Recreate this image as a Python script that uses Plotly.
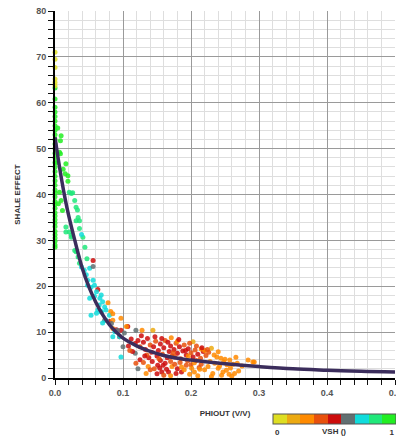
import plotly.graph_objects as go

# ---------------- data ----------------
# fitted trend line
curve_phi = [0, 0.005, 0.01, 0.015, 0.02, 0.03, 0.04, 0.05, 0.06, 0.07, 0.08, 0.09, 0.1,
             0.12, 0.14, 0.16, 0.18, 0.2, 0.25, 0.3, 0.35, 0.4, 0.45, 0.5]
curve_se = [52.5, 47.5, 43, 39, 35.5, 29.5, 24, 19.8, 16.5, 13.8, 11.6, 10, 8.7,
            7, 5.8, 4.9, 4.3, 3.9, 3.1, 2.5, 2.0, 1.7, 1.45, 1.3]

# points at PHIOUT = 0
zero_se = [28.5, 29, 29.8, 30.5, 31.2, 32, 33, 33.8, 34.5, 35.3, 36, 37, 37.8, 38.5, 39.5,
           40.3, 41, 42, 43, 44, 45, 46, 47, 48, 49, 50, 51, 52, 53, 54, 55, 56, 57, 58, 59,
           60.8, 63.2, 63.7, 64.4, 65.2, 67.7, 69.5, 71.0]
zero_vsh = [0.97] * 37 + [0.03] * 6

# low porosity shaly points along the trend
shaly_phi = [0.009, 0.008, 0.0066, 0.008, 0.016, 0.015, 0.019, 0.019, 0.0066, 0.009, 0.005, 0.021,
             0.024, 0.026, 0.029, 0.031, 0.033, 0.034, 0.036, 0.031, 0.016, 0.021, 0.036, 0.024, 0.041,
             0.016, 0.024, 0.039, 0.029, 0.031, 0.034, 0.036, 0.039, 0.043, 0.051, 0.046, 0.048, 0.056,
             0.056, 0.056, 0.048, 0.053, 0.058, 0.063, 0.061, 0.051, 0.058, 0.066, 0.068, 0.070, 0.078,
             0.063, 0.068, 0.053, 0.061, 0.075, 0.082, 0.073, 0.080, 0.085, 0.097, 0.085, 0.090, 0.097,
             0.095, 0.085, 0.065, 0.073, 0.068, 0.080, 0.085, 0.075, 0.070, 0.083, 0.088, 0.092, 0.095,
             0.100, 0.097, 0.044, 0.047, 0.012, 0.004, 0.003, 0.011]
shaly_se = [52.8, 51.7, 49.2, 48.9, 46.7, 44.5, 44.1, 42.9, 40.5, 38.7, 38.0, 40.5,
            40.2, 40.4, 38.7, 37.2, 36.6, 35.0, 34.3, 34.3, 32.9, 31.8, 32.6, 30.7, 30.7,
            31.8, 31.1, 31.3, 27.8, 27.5, 26.4, 25.0, 24.2, 23.5, 23.9, 22.5, 21.3, 21.3,
            25.6, 24.3, 20.2, 19.8, 20.2, 19.3, 18.8, 17.4, 17.8, 17.4, 18.1, 16.6, 16.4,
            14.8, 14.5, 13.7, 14.1, 14.8, 14.5, 12.6, 12.3, 12.6, 13.0, 10.8, 10.5, 10.4,
            9.0, 9.0, 15.9, 15.5, 14.4, 13.7, 14.0, 12.6, 12.0, 11.9, 10.1, 10.4, 9.0,
            6.8, 4.6, 28.5, 26.0, 45.5, 54.5, 47.0, 36.5]
shaly_vsh = [0.95, 0.95, 0.95, 0.95, 0.93, 0.93, 0.93, 0.93, 0.95, 0.95, 0.95, 0.85,
             0.85, 0.85, 0.85, 0.82, 0.82, 0.8, 0.8, 0.85, 0.88, 0.85, 0.8, 0.85, 0.78,
             0.85, 0.82, 0.75, 0.82, 0.8, 0.8, 0.78, 0.75, 0.75, 0.72, 0.75, 0.75, 0.72,
             0.5, 0.6, 0.75, 0.72, 0.72, 0.45, 0.72, 0.72, 0.72, 0.7, 0.72, 0.7, 0.28,
             0.72, 0.7, 0.72, 0.7, 0.7, 0.28, 0.6, 0.45, 0.28, 0.28, 0.28, 0.45, 0.5,
             0.5, 0.72, 0.72, 0.72, 0.72, 0.72, 0.28, 0.72, 0.72, 0.6, 0.72, 0.6, 0.72,
             0.6, 0.72, 0.78, 0.78, 0.95, 0.95, 0.95, 0.9]

# higher porosity clean points
clean_phi = [0.102, 0.107, 0.105, 0.119, 0.128, 0.112, 0.118, 0.122, 0.125, 0.13, 0.133, 0.136,
             0.14, 0.142, 0.145, 0.148, 0.15, 0.152, 0.155, 0.158, 0.16, 0.162, 0.165, 0.168,
             0.17, 0.172, 0.175, 0.178, 0.18, 0.183, 0.185, 0.188, 0.19, 0.193, 0.196, 0.2,
             0.203, 0.206, 0.21, 0.214, 0.218, 0.222, 0.226,
             0.144, 0.171, 0.18, 0.203, 0.23, 0.215, 0.22, 0.24, 0.244, 0.25, 0.257, 0.266,
             0.284, 0.293, 0.262, 0.252, 0.245, 0.26, 0.23, 0.22, 0.212, 0.2,
             0.119, 0.134, 0.137, 0.151, 0.154, 0.159, 0.164, 0.157, 0.167, 0.172, 0.193, 0.201,
             0.205, 0.186, 0.213, 0.232, 0.24, 0.247, 0.256, 0.264, 0.253, 0.268, 0.291,
             0.125, 0.13, 0.138, 0.143, 0.146, 0.155, 0.162, 0.17, 0.176, 0.18, 0.184, 0.19,
             0.195, 0.198, 0.205, 0.21, 0.215, 0.225, 0.228, 0.235, 0.238, 0.242, 0.248, 0.258,
             0.27, 0.275, 0.17, 0.178, 0.16, 0.14, 0.15, 0.118, 0.122,
             0.108, 0.114, 0.127, 0.135, 0.147, 0.157, 0.166, 0.174, 0.182, 0.192, 0.198, 0.208,
             0.216, 0.224, 0.234, 0.110, 0.132, 0.153, 0.176, 0.196, 0.186, 0.208]
clean_se = [9.8, 11.2, 11.2, 10.4, 10.4, 8.5, 7.5, 8.2, 6.8, 7.8, 6.2, 8.6,
            7.2, 5.6, 6.8, 8.0, 4.8, 6.0, 7.4, 5.2, 6.6, 8.2, 4.4, 5.8,
            7.0, 4.8, 6.2, 7.6, 5.4, 6.8, 4.2, 5.9, 7.2, 5.0, 6.4, 5.5,
            4.6, 6.1, 5.2, 4.3, 5.8, 4.9, 5.6,
            10.4, 8.8, 8.0, 7.9, 6.5, 6.3, 6.0, 5.7, 4.3, 4.1, 3.9, 4.5,
            3.9, 3.5, 3.0, 1.7, 0.6, 0.4, 0.3, 1.8, 2.3, 2.9,
            3.2, 1.0, 2.5, 2.8, 2.2, 2.8, 1.9, 1.3, 1.3, 2.5, 2.8, 2.1,
            1.3, 1.3, 1.9, 1.0, 2.1, 1.3, 0.8, 1.0, 2.9, 3.2, 3.5,
            4.0, 3.4, 4.4, 3.6, 2.0, 3.8, 3.2, 3.6, 3.0, 2.0, 3.4, 1.8,
            3.7, 0.8, 3.3, 0.5, 3.0, 2.5, 3.6, 3.2, 4.6, 2.6, 3.5, 2.2,
            1.5, 2.6, 0.5, 1.0, 0.6, 1.8, 0.9, 5.4, 2.0,
            7.0, 5.8, 9.2, 5.0, 9.0, 8.6, 7.8, 5.5, 8.4, 6.0, 7.6, 7.0,
            6.6, 6.2, 5.0, 6.0, 4.8, 4.2, 4.6, 4.8, 2.4, 3.8]
clean_vsh = [0.6, 0.5, 0.28, 0.6, 0.28, 0.5, 0.45, 0.5, 0.4, 0.5, 0.45, 0.5,
             0.4, 0.5, 0.5, 0.4, 0.5, 0.45, 0.5, 0.4, 0.5, 0.4, 0.5, 0.5,
             0.45, 0.4, 0.5, 0.4, 0.5, 0.45, 0.4, 0.5, 0.4, 0.45, 0.5, 0.4,
             0.5, 0.4, 0.45, 0.4, 0.5, 0.4, 0.35,
             0.17, 0.28, 0.28, 0.17, 0.17, 0.3, 0.3, 0.3, 0.3, 0.28, 0.3, 0.28,
             0.25, 0.28, 0.3, 0.3, 0.3, 0.3, 0.28, 0.3, 0.35, 0.4,
             0.4, 0.3, 0.3, 0.5, 0.5, 0.45, 0.5, 0.5, 0.45, 0.3, 0.35, 0.3,
             0.3, 0.5, 0.3, 0.28, 0.3, 0.3, 0.3, 0.28, 0.3, 0.3, 0.28,
             0.5, 0.4, 0.5, 0.45, 0.35, 0.5, 0.45, 0.4, 0.35, 0.5, 0.4, 0.3,
             0.35, 0.3, 0.3, 0.3, 0.35, 0.3, 0.3, 0.28, 0.3, 0.3, 0.3, 0.3,
             0.28, 0.3, 0.3, 0.5, 0.35, 0.4, 0.45, 0.6, 0.6,
             0.5, 0.45, 0.5, 0.4, 0.5, 0.5, 0.45, 0.4, 0.5, 0.45, 0.4, 0.4,
             0.45, 0.4, 0.3, 0.4, 0.45, 0.4, 0.35, 0.3, 0.3, 0.35]

vsh_colors = ["#dede22", "#ecaa12", "#ff8a00", "#e8500c", "#cc0c0c",
              "#627072", "#10dcdc", "#20e87a", "#22ee22"]
cbar_ticks = [0.035, 0.965]
cbar_ticktext = ["0", "1"]

x_ticks = [0, 0.1, 0.2, 0.3, 0.4, 0.5]
x_ticktext = ["0.0", "0.1", "0.2", "0.3", "0.4", "0.5"]

# ---------------- figure ----------------
n = len(vsh_colors)
colorscale = []
for i, c in enumerate(vsh_colors):
    colorscale.append([i / n, c])
    colorscale.append([(i + 1) / n, c])

all_phi = [0.0] * len(zero_se) + shaly_phi + clean_phi
all_se = zero_se + shaly_se + clean_se
all_vsh = zero_vsh + shaly_vsh + clean_vsh

FONT = "Liberation Sans"

fig = go.Figure()
fig.add_trace(go.Scatter(
    x=all_phi, y=all_se, mode="markers",
    marker=dict(size=5, color=all_vsh, colorscale=colorscale, cmin=0, cmax=1,
                opacity=0.85, line=dict(width=0),
                colorbar=dict(orientation="h", thickness=10, len=123, lenmode="pixels",
                              x=(273 - 55) / 340, xanchor="left", y=-0.124, yanchor="middle",
                              xpad=0, ypad=0, outlinecolor="#555", outlinewidth=1,
                              tickvals=cbar_ticks, ticktext=cbar_ticktext, ticks="",
                              ticklabeloverflow="allow",
                              tickfont=dict(family=FONT, size=8, color="#333", weight="bold"))),
    cliponaxis=False, showlegend=False, hoverinfo="skip"))

fig.add_trace(go.Scatter(
    x=curve_phi, y=curve_se, mode="lines", line=dict(color="#3b2d5c", width=3.5, shape="spline"),
    showlegend=False, hoverinfo="skip"))

# axis end arrows
fig.add_trace(go.Scatter(
    x=[0, -0.008, 0], y=[80.8, 0, -1.2], mode="markers",
    marker=dict(symbol=["triangle-up", "triangle-left", "triangle-down"], size=7, color="black"),
    cliponaxis=False, showlegend=False, hoverinfo="skip"))

fig.add_annotation(text="<b>VSH ()</b>", x=(334 - 55) / 340, xref="paper", y=-0.147, yref="paper",
                   showarrow=False, font=dict(family=FONT, size=8, color="#333"),
                   xanchor="center", yanchor="middle")

axis_common = dict(
    showgrid=True, gridcolor="#9a9a9a", gridwidth=1,
    showline=True, linecolor="black", linewidth=2,
    ticks="outside", ticklen=5, tickcolor="#111", tickwidth=1.3,
    tickfont=dict(family=FONT, size=9, color="#555", weight="bold"),
    ticklabeloverflow="allow", zeroline=False, automargin=False,
)

fig.update_layout(
    width=396, height=440,
    margin=dict(l=55, r=1, t=11, b=62, autoexpand=False),
    plot_bgcolor="white", paper_bgcolor="white",
    font=dict(family=FONT, size=9, color="#444"),
    xaxis=dict(range=[0, 0.5], tickvals=x_ticks, ticktext=x_ticktext,
               minor=dict(dtick=0.02, showgrid=True, gridcolor="#dedede", ticks="outside",
                          ticklen=5, tickcolor="#111", tickwidth=1.3),
               title=dict(text="<b>PHIOUT (V/V)</b>", font=dict(family=FONT, size=8, color="#333"),
                          standoff=14),
               **axis_common),
    yaxis=dict(range=[0, 80], dtick=10,
               minor=dict(dtick=2, showgrid=True, gridcolor="#dedede", ticks="outside",
                          ticklen=5, tickcolor="#111", tickwidth=1.3),
               title=dict(text="<b>SHALE EFFECT</b>", font=dict(family=FONT, size=8, color="#333"),
                          standoff=14),
               **axis_common),
)

fig.write_html("out.html")
